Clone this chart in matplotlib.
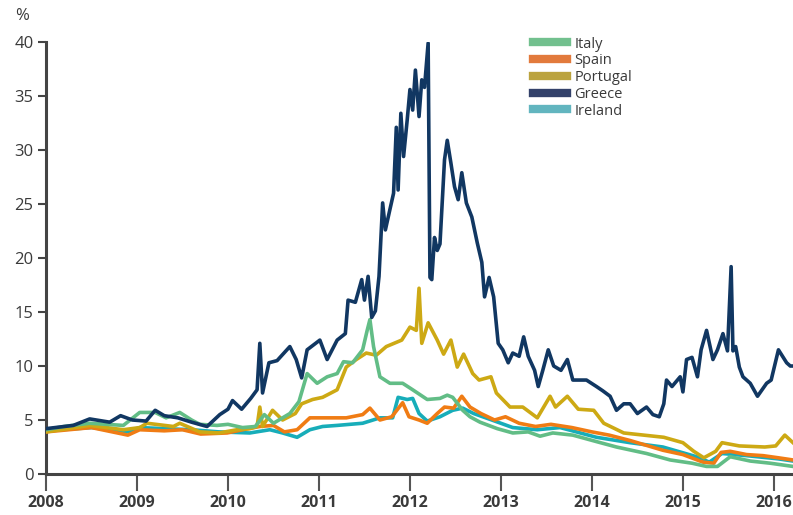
import matplotlib.pyplot as plt
from matplotlib.lines import Line2D

# decimal years / yield (%)
greece_t = [2008.0, 2008.3, 2008.48, 2008.7, 2008.82, 2008.95, 2009.1, 2009.2, 2009.3, 2009.45,
            2009.6, 2009.77, 2009.91, 2010.0, 2010.05, 2010.15, 2010.25, 2010.32, 2010.35, 2010.38,
            2010.45, 2010.54, 2010.68, 2010.75, 2010.81, 2010.87, 2011.01, 2011.09, 2011.2, 2011.29,
            2011.32, 2011.4, 2011.47, 2011.5, 2011.54, 2011.58, 2011.62, 2011.66, 2011.7, 2011.73,
            2011.78, 2011.82, 2011.85, 2011.87, 2011.9, 2011.93, 2011.97, 2012.0, 2012.03, 2012.06,
            2012.1, 2012.13, 2012.16, 2012.2, 2012.22, 2012.24, 2012.27, 2012.3, 2012.33, 2012.38,
            2012.41, 2012.45, 2012.49, 2012.53, 2012.57, 2012.62, 2012.68, 2012.74, 2012.79, 2012.82,
            2012.87, 2012.92, 2012.97, 2013.02, 2013.08, 2013.13, 2013.2, 2013.25, 2013.3, 2013.37,
            2013.41, 2013.46, 2013.52, 2013.58, 2013.66, 2013.73, 2013.79, 2013.86, 2013.94, 2014.05,
            2014.12, 2014.2, 2014.27, 2014.35, 2014.42, 2014.5, 2014.6, 2014.67, 2014.74, 2014.79,
            2014.82, 2014.88, 2014.97, 2015.0, 2015.04, 2015.1, 2015.16, 2015.2, 2015.26, 2015.33,
            2015.38, 2015.44, 2015.49, 2015.53, 2015.55, 2015.58, 2015.62, 2015.66, 2015.74, 2015.82,
            2015.92, 2015.97, 2016.05, 2016.14, 2016.18, 2016.21]
greece_y = [4.2, 4.5, 5.1, 4.8, 5.4, 5.0, 4.9, 5.9, 5.4, 5.2,
            4.8, 4.4, 5.5, 6.0, 6.8, 6.0, 7.0, 7.8, 12.1, 7.5,
            10.3, 10.5, 11.8, 10.6, 8.9, 11.5, 12.4, 10.6, 12.4, 13.0,
            16.1, 15.9, 18.0, 16.1, 18.3, 14.5, 15.1, 18.3, 25.1, 22.6,
            24.5, 26.0, 32.1, 26.3, 33.4, 29.4, 32.8, 35.6, 33.7, 37.4,
            33.1, 36.5, 35.8, 39.9, 18.2, 18.0, 21.9, 20.7, 21.3, 29.1,
            30.9, 28.8, 26.6, 25.4, 27.9, 25.1, 23.8, 21.4, 19.6, 16.4,
            18.2, 16.4, 12.1, 11.5, 10.3, 11.2, 10.9, 12.7, 10.9, 9.6,
            8.1, 9.6, 11.5, 10.0, 9.6, 10.6, 8.7, 8.7, 8.7, 8.1,
            7.7, 7.2, 5.9, 6.5, 6.5, 5.6, 6.2, 5.5, 5.3, 6.5,
            8.7, 8.1, 9.0, 7.6, 10.6, 10.8, 9.0, 11.5, 13.3, 10.6,
            11.5, 13.0, 11.4, 19.2, 11.4, 11.8, 9.9, 9.0, 8.4, 7.2,
            8.4, 8.7, 11.5, 10.3, 10.0, 10.0]

italy_t = [2008.0, 2008.2, 2008.48, 2008.85, 2009.03, 2009.2, 2009.32, 2009.47, 2009.6, 2009.69,
           2009.88, 2010.0, 2010.16, 2010.3, 2010.4, 2010.5, 2010.68, 2010.78, 2010.87, 2010.98,
           2011.09, 2011.2, 2011.27, 2011.37, 2011.48, 2011.53, 2011.56, 2011.6, 2011.67, 2011.78,
           2011.92, 2012.03, 2012.19, 2012.33, 2012.41, 2012.47, 2012.58, 2012.66, 2012.77, 2012.96,
           2013.13, 2013.3, 2013.43, 2013.57, 2013.79, 2014.05, 2014.27, 2014.6, 2014.86, 2015.1,
           2015.26, 2015.38, 2015.52, 2015.74, 2015.96, 2016.21]
italy_y = [4.1, 4.4, 4.7, 4.5, 5.7, 5.7, 5.2, 5.7, 5.0, 4.6,
           4.5, 4.6, 4.3, 4.4, 5.5, 4.7, 5.6, 6.7, 9.3, 8.4,
           9.0, 9.3, 10.4, 10.3, 11.5, 13.3, 14.3, 11.8, 9.0, 8.4,
           8.4, 7.8, 6.9, 7.0, 7.3, 7.1, 5.9, 5.3, 4.8, 4.2,
           3.8, 3.9, 3.5, 3.8, 3.6, 3.0, 2.5, 1.9, 1.3, 1.0,
           0.7, 0.7, 1.6, 1.2, 1.0, 0.7]

spain_t = [2008.0, 2008.5, 2008.9, 2009.03, 2009.3, 2009.5, 2009.7, 2009.99, 2010.16, 2010.35,
           2010.5, 2010.62, 2010.76, 2010.9, 2011.1, 2011.3, 2011.48, 2011.56, 2011.67, 2011.8,
           2011.92, 2011.99, 2012.1, 2012.19, 2012.3, 2012.38, 2012.48, 2012.57, 2012.66, 2012.78,
           2012.93, 2013.05, 2013.2, 2013.38, 2013.55, 2013.78, 2014.0, 2014.19, 2014.42, 2014.78,
           2015.0, 2015.22, 2015.34, 2015.42, 2015.52, 2015.7, 2015.88, 2016.05, 2016.21]
spain_y = [3.9, 4.3, 3.6, 4.1, 4.0, 4.1, 3.7, 3.8, 4.1, 4.4,
           4.5, 3.9, 4.1, 5.2, 5.2, 5.2, 5.5, 6.1, 5.0, 5.3,
           6.6, 5.3, 5.0, 4.7, 5.6, 6.2, 6.1, 7.2, 6.2, 5.6,
           5.0, 5.3, 4.7, 4.4, 4.6, 4.3, 3.9, 3.6, 3.1, 2.2,
           1.8, 1.1, 1.0, 2.0, 2.1, 1.8, 1.7, 1.5, 1.3]

portugal_t = [2008.0, 2008.48, 2008.85, 2009.03, 2009.11, 2009.4, 2009.47, 2009.69, 2009.9, 2010.1,
              2010.24, 2010.32, 2010.35, 2010.38, 2010.49, 2010.6, 2010.74, 2010.81, 2010.93, 2011.04,
              2011.2, 2011.3, 2011.41, 2011.52, 2011.63, 2011.74, 2011.91, 2012.0, 2012.07, 2012.1,
              2012.13, 2012.2, 2012.3, 2012.37, 2012.45, 2012.52, 2012.59, 2012.69, 2012.76, 2012.89,
              2012.95, 2013.1, 2013.24, 2013.4, 2013.54, 2013.6, 2013.73, 2013.85, 2014.02, 2014.13,
              2014.35, 2014.57, 2014.79, 2015.0, 2015.12, 2015.23, 2015.36, 2015.43, 2015.62, 2015.9,
              2016.02, 2016.12, 2016.21]
portugal_y = [3.9, 4.5, 4.1, 4.3, 4.7, 4.4, 4.7, 3.9, 3.8, 4.1,
              4.2, 4.4, 6.2, 4.4, 5.9, 5.0, 5.6, 6.5, 6.9, 7.1,
              7.8, 9.9, 10.6, 11.2, 11.0, 11.8, 12.4, 13.6, 13.3, 17.2,
              12.1, 14.0, 12.4, 11.1, 12.4, 9.9, 11.1, 9.3, 8.7, 9.0,
              7.5, 6.2, 6.2, 5.2, 7.2, 6.2, 7.2, 6.0, 5.9, 4.7,
              3.8, 3.6, 3.4, 2.9, 2.1, 1.5, 2.1, 2.9, 2.6, 2.5,
              2.6, 3.6, 2.9]

ireland_t = [2008.0, 2008.5, 2008.9, 2009.03, 2009.3, 2009.6, 2009.9, 2010.24, 2010.46, 2010.6,
             2010.76, 2010.9, 2011.04, 2011.2, 2011.48, 2011.67, 2011.81, 2011.87, 2011.97, 2012.03,
             2012.1, 2012.19, 2012.33, 2012.47, 2012.58, 2012.7, 2012.9, 2013.13, 2013.4, 2013.65,
             2014.05, 2014.42, 2014.78, 2015.15, 2015.29, 2015.43, 2015.7, 2016.05, 2016.21]
ireland_y = [4.0, 4.3, 3.9, 4.3, 4.2, 4.1, 3.9, 3.8, 4.1, 3.8,
             3.4, 4.1, 4.4, 4.5, 4.7, 5.2, 5.2, 7.1, 6.9, 7.0,
             5.6, 4.9, 5.3, 5.9, 6.1, 5.6, 5.0, 4.3, 4.1, 4.3,
             3.4, 2.9, 2.5, 1.6, 1.1, 1.9, 1.7, 1.4, 1.2]

years = list(range(2008, 2017))

line_colors = {'Italy': '#62bd86', 'Spain': '#f07c14', 'Portugal': '#cda914',
               'Greece': '#113762', 'Ireland': '#17adb9'}
legend_colors = {'Italy': '#72c08e', 'Spain': '#e27a3c', 'Portugal': '#bba33e',
                 'Greece': '#33416a', 'Ireland': '#62b5bf'}

plt.rcParams['font.family'] = ['Open Sans', 'DejaVu Sans']

fig = plt.figure(figsize=(7.93, 5.15), dpi=100)
ax = fig.add_axes([0.058, 0.0796, 0.942, 0.8388])

lw = 2.6
ax.plot(ireland_t, ireland_y, color=line_colors['Ireland'], lw=lw, zorder=2)
ax.plot(spain_t, spain_y, color=line_colors['Spain'], lw=lw, zorder=3)
ax.plot(portugal_t, portugal_y, color=line_colors['Portugal'], lw=lw, zorder=3)
ax.plot(italy_t, italy_y, color=line_colors['Italy'], lw=lw, zorder=4)
ax.plot(greece_t, greece_y, color=line_colors['Greece'], lw=lw, zorder=5)

ax.set_xlim(2008, 2016.21)
ax.set_ylim(0, 40)
ax.set_xticks(years)
ax.set_xticklabels([str(y) for y in years], fontweight='bold', fontsize=11.5, color='#3a3a3a')
ax.set_yticks(range(0, 41, 5))
ax.set_yticklabels([str(v) for v in range(0, 41, 5)], fontsize=12, color='#3a3a3a')
ax.tick_params(axis='x', length=12, width=1.5, color='#555555', pad=3)
ax.tick_params(axis='y', length=6, width=1.5, color='#444444', pad=3)

for s in ['top', 'right']:
    ax.spines[s].set_visible(False)
for s in ['left', 'bottom']:
    ax.spines[s].set_linewidth(2.2)
    ax.spines[s].set_color('#444444')

fig.text(0.028, 0.968, '%', fontsize=12, color='#3a3a3a', ha='center', va='center')

names = ['Italy', 'Spain', 'Portugal', 'Greece', 'Ireland']
handles = [Line2D([0], [0], color=legend_colors[n], lw=6) for n in names]
ax.legend(handles, names, loc='upper left', bbox_to_anchor=(0.635, 1.043), frameon=False,
          fontsize=10.5, handlelength=2.3, handletextpad=0.5, labelspacing=0.12,
          labelcolor='#3a3a3a')

fig.savefig('out.png', dpi=100)
